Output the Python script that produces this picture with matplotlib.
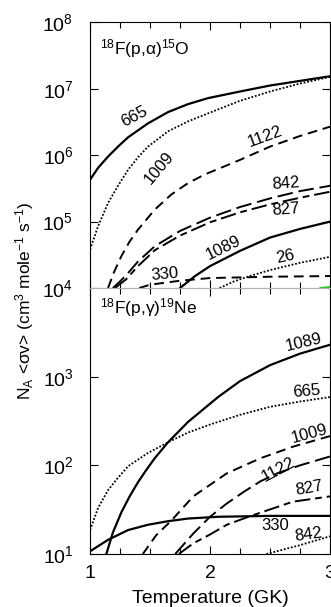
import numpy as np
import matplotlib
matplotlib.use("Agg")
import matplotlib.pyplot as plt

plt.rcParams['font.family'] = ['Liberation Sans', 'DejaVu Sans']
plt.rcParams['mathtext.fontset'] = 'custom'
plt.rcParams['mathtext.rm'] = 'Liberation Sans'
plt.rcParams['mathtext.it'] = 'Liberation Sans:italic'
plt.rcParams['mathtext.sf'] = 'Liberation Sans'
plt.rcParams['mathtext.default'] = 'regular'

# log10 of the rates
# 18F(p,a)15O  (upper panel)
t_a665 = [1.0, 1.067, 1.15, 1.233, 1.317, 1.483, 1.65, 1.817, 1.983, 2.25, 2.5, 2.75, 3.0]
r_a665 = [5.63, 5.81, 5.98, 6.13, 6.27, 6.48, 6.65, 6.77, 6.86, 6.96, 7.05, 7.12, 7.19]
t_a1009 = [1.0, 1.067, 1.15, 1.233, 1.317, 1.4, 1.483, 1.65, 1.817, 1.983, 2.25, 2.5, 2.75, 3.0]
r_a1009 = [4.58, 4.93, 5.28, 5.54, 5.78, 5.97, 6.13, 6.36, 6.51, 6.63, 6.82, 6.96, 7.08, 7.18]
t_a1122 = [1.15, 1.2, 1.261, 1.33, 1.4, 1.539, 1.678, 1.817, 1.956, 2.25, 2.5, 2.75, 3.0]
r_a1122 = [4.0, 4.24, 4.48, 4.70, 4.88, 5.18, 5.41, 5.58, 5.71, 5.93, 6.13, 6.29, 6.43]
t_a842 = [1.19, 1.25, 1.3, 1.4, 1.54, 1.75, 2.0, 2.25, 2.5, 2.75, 3.0]
r_a842 = [4.0, 4.1, 4.19, 4.40, 4.63, 4.86, 5.06, 5.22, 5.35, 5.46, 5.54]
t_a827 = [1.21, 1.25, 1.3, 1.4, 1.54, 1.75, 2.0, 2.25, 2.5, 2.75, 3.0]
r_a827 = [4.0, 4.06, 4.13, 4.33, 4.57, 4.79, 4.99, 5.14, 5.26, 5.36, 5.45]
t_a1089 = [1.75, 1.875, 2.0, 2.25, 2.5, 2.75, 3.0]
r_a1089 = [4.0, 4.18, 4.33, 4.56, 4.76, 4.89, 5.0]
t_a26 = [2.08, 2.2, 2.33, 2.5, 2.75, 3.0]
r_a26 = [4.0, 4.1, 4.18, 4.27, 4.38, 4.47]
t_a330 = [1.41, 1.5, 1.75, 2.0, 2.5, 3.0]
r_a330 = [4.0, 4.05, 4.11, 4.15, 4.17, 4.18]
t_green = [2.92, 3.0]
r_green = [4.0, 4.015]

# 18F(p,g)19Ne  (lower panel)
t_g1089 = [1.136, 1.19, 1.261, 1.33, 1.4, 1.47, 1.539, 1.65, 1.817, 2.067, 2.25, 2.5, 2.75, 3.0]
r_g1089 = [1.0, 1.24, 1.47, 1.65, 1.81, 1.95, 2.08, 2.26, 2.49, 2.77, 2.95, 3.13, 3.26, 3.36]
t_g665 = [1.0, 1.067, 1.15, 1.233, 1.317, 1.483, 1.65, 1.817, 2.0, 2.25, 2.5, 2.75, 3.0]
r_g665 = [1.27, 1.52, 1.72, 1.86, 1.99, 2.14, 2.26, 2.37, 2.46, 2.57, 2.66, 2.72, 2.77]
t_g1009 = [1.44, 1.55, 1.68, 1.86, 2.14, 2.42, 2.69, 3.0]
r_g1009 = [1.0, 1.21, 1.38, 1.65, 1.91, 2.08, 2.21, 2.33]
t_g1122 = [1.71, 1.86, 2.0, 2.14, 2.28, 2.42, 2.56, 2.75, 3.0]
r_g1122 = [1.0, 1.23, 1.42, 1.57, 1.70, 1.82, 1.91, 2.0, 2.10]
t_g827 = [1.74, 1.86, 2.0, 2.14, 2.32, 2.69, 3.0]
r_g827 = [1.0, 1.12, 1.22, 1.33, 1.42, 1.59, 1.65]
t_g330 = [1.0, 1.15, 1.317, 1.483, 1.65, 1.817, 2.067, 2.5, 3.0]
r_g330 = [1.03, 1.16, 1.27, 1.33, 1.37, 1.40, 1.42, 1.43, 1.43]
t_g842 = [2.47, 2.75, 3.0]
r_g842 = [1.0, 1.10, 1.20]

solid = '-'
dotted = (0, (1, 1))
short_dash = (0, (5, 3))
long_dash = (0, (8, 3))
dash_dot = (0, (8, 2.5, 3.5, 2.5))

fig = plt.figure(figsize=(3.31, 6.07), dpi=100)
ax1 = fig.add_axes([0.272, 0.5255, 0.725, 0.4375])
ax2 = fig.add_axes([0.272, 0.0873, 0.725, 0.4382])

def draw(ax, t, r, ls, color='black', lw=1.4):
    ax.plot(t, 10 ** np.array(r), color=color, linestyle=ls, linewidth=lw)

draw(ax1, t_a665, r_a665, solid, lw=1.6)
draw(ax1, t_a1009, r_a1009, dotted, lw=1.3)
draw(ax1, t_a1122, r_a1122, short_dash)
draw(ax1, t_a842, r_a842, long_dash)
draw(ax1, t_a827, r_a827, dash_dot)
draw(ax1, t_a1089, r_a1089, solid, lw=1.6)
draw(ax1, t_a26, r_a26, dotted, lw=1.3)
draw(ax1, t_a330, r_a330, short_dash)
draw(ax1, t_green, r_green, solid, color='#22cc22', lw=1.5)

draw(ax2, t_g1089, r_g1089, solid, lw=1.6)
draw(ax2, t_g665, r_g665, dotted, lw=1.3)
draw(ax2, t_g1009, r_g1009, short_dash)
draw(ax2, t_g1122, r_g1122, long_dash)
draw(ax2, t_g827, r_g827, dash_dot)
draw(ax2, t_g330, r_g330, solid, lw=1.6)
draw(ax2, t_g842, r_g842, dotted, lw=1.3)

# curve labels: text, T, log10(rate), rotation
lab_top = [("665", 1.372, 6.58, 28), ("1009", 1.58, 5.81, 50), ("1122", 2.46, 6.28, 20),
           ("842", 2.633, 5.58, 4), ("827", 2.633, 5.18, 4), ("1089", 2.11, 4.60, 26),
           ("26", 2.625, 4.47, 12), ("330", 1.62, 4.20, 5)]
lab_bot = [("1089", 2.78, 3.39, 13), ("665", 2.806, 2.83, 5), ("1009", 2.83, 2.35, 15),
           ("1122", 2.57, 1.95, 28), ("827", 2.83, 1.74, 10), ("330", 2.54, 1.32, 0),
           ("842", 2.82, 1.22, 8)]
for ax, labs in ((ax1, lab_top), (ax2, lab_bot)):
    for s, x, y, rot in labs:
        ax.text(x, 10 ** y, s, fontsize=12, rotation=rot, ha='center', va='center',
                rotation_mode='anchor')

ax1.text(0.04, 0.90, r'$^{18}$F(p,$\alpha$)$^{15}$O', transform=ax1.transAxes,
         fontsize=12.5, va='center')
ax2.text(0.04, 0.925, r'$^{18}$F(p,$\gamma$)$^{19}$Ne', transform=ax2.transAxes,
         fontsize=12.5, va='center')

for ax in (ax1, ax2):
    ax.set_yscale('log')
    ax.set_xlim(1, 3)
    ax.set_xticks([1, 2, 3])
    ax.set_xticks(np.arange(1, 3.01, 0.25), minor=True)
    ax.yaxis.set_minor_locator(matplotlib.ticker.NullLocator())
    ax.tick_params(which='both', direction='in', top=True, right=True, labelsize=14)
    ax.tick_params(which='major', length=6, width=0.8)
    ax.tick_params(which='minor', length=4, width=0.8)
    ax.tick_params(axis='y', pad=12)

ax1.set_ylim(1e4, 1e8)
ax1.set_yticks([1e4, 1e5, 1e6, 1e7, 1e8])
ax1.tick_params(axis='x', labelbottom=False)
ax1.spines['bottom'].set_color('#b0b0b0')

ax2.set_ylim(10, 1e4)
ax2.set_yticks([10, 100, 1000])
ax2.spines['top'].set_color('#b0b0b0')
ax2.tick_params(axis='x', pad=8)

ax2.set_xlabel('Temperature (GK)', fontsize=14, labelpad=6)
fig.text(0.075, 0.504, r'N$_A$ <$\sigma$v> (cm$^3$ mole$^{-1}$ s$^{-1}$)',
         rotation=90, fontsize=12.5, ha='center', va='center')

fig.savefig('out.png', dpi=100)
